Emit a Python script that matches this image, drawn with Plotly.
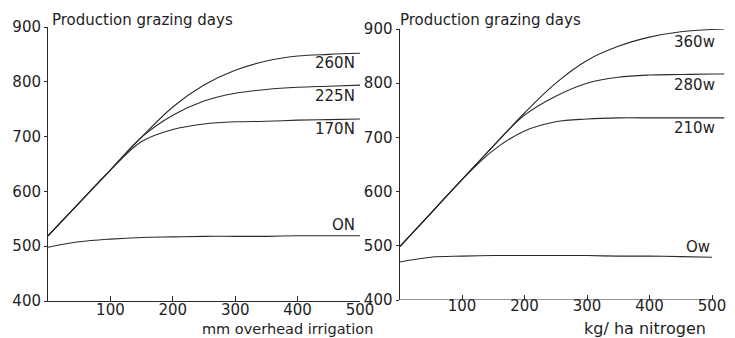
import plotly.graph_objects as go

# ---------------- data ----------------
irrigation_mm = [0, 50, 100, 150, 200, 250, 300, 350, 400, 450, 500]
n260 = [519, 579, 639, 699, 754, 794, 821, 838, 847, 850, 852]
n225 = [519, 579, 639, 699, 739, 765, 779, 786, 790, 792, 794]
n170 = [519, 579, 639, 691, 713, 723, 727, 728, 730, 731, 732]
n0 = [498, 508, 513, 516, 517, 518, 518, 518, 519, 519, 519]
left_names = ["260N", "225N", "170N", "ON"]

nitrogen_kg = [0, 50, 100, 150, 200, 250, 300, 350, 400, 450, 500, 520]
w360 = [498, 560, 622, 684, 745, 800, 842, 868, 885, 895, 899, 900]
w280 = [498, 560, 622, 684, 741, 776, 800, 811, 815, 816, 817, 817]
w210 = [498, 560, 622, 676, 712, 729, 734, 736, 736, 736, 736, 736]
nitrogen_kg_w0 = [0, 50, 100, 150, 200, 250, 300, 350, 400, 450, 500]
w0 = [470, 479, 481, 482, 482, 482, 482, 481, 481, 480, 479]
right_names = ["360w", "280w", "210w", "Ow"]

x_ticks = [100, 200, 300, 400, 500]
y_ticks = [400, 500, 600, 700, 800, 900]

# ---------------- figure ----------------
W, H = 735, 338
FONT = "DejaVu Sans"
LINE = "#2a2a2a"
TXT = "#1e1e1e"

fig = go.Figure()

left_series = [n260, n225, n170, n0]
for name, ys in zip(left_names, left_series):
    fig.add_trace(go.Scatter(x=irrigation_mm, y=ys, mode="lines", name=name,
                             line=dict(color=LINE, width=1.1, shape="spline", smoothing=1.0),
                             xaxis="x", yaxis="y", showlegend=False, hoverinfo="skip"))

right_series = [(nitrogen_kg, w360), (nitrogen_kg, w280), (nitrogen_kg, w210), (nitrogen_kg_w0, w0)]
for name, (xs, ys) in zip(right_names, right_series):
    fig.add_trace(go.Scatter(x=xs, y=ys, mode="lines", name=name,
                             line=dict(color=LINE, width=1.1, shape="spline", smoothing=1.0),
                             xaxis="x2", yaxis="y2", showlegend=False, hoverinfo="skip"))

# curve labels tied to the curve end points
left_shift = [-10, -11, -10, 11]
for name, ys, ysh in zip(left_names, left_series, left_shift):
    fig.add_annotation(x=irrigation_mm[-1], y=ys[-1], xref="x", yref="y", text=name,
                       showarrow=False, xanchor="right", yanchor="middle",
                       xshift=-3, yshift=ysh, font=dict(family=FONT, size=15, color=TXT))
right_shift = [-13, -11, -10, 10]
right_xshift = [-8, -8, -8, 0]
for name, (xs, ys), ysh, xsh in zip(right_names, right_series, right_shift, right_xshift):
    fig.add_annotation(x=xs[-1], y=ys[-1], xref="x2", yref="y2", text=name,
                       showarrow=False, xanchor="right", yanchor="middle",
                       xshift=xsh, yshift=ysh, font=dict(family=FONT, size=15, color=TXT))

# titles
for px in (50, 398):
    fig.add_annotation(x=px / W, y=1 - 20 / H, xref="paper", yref="paper",
                       text="Production grazing days", showarrow=False,
                       xanchor="left", yanchor="middle",
                       font=dict(family=FONT, size=15, color=TXT))
fig.add_annotation(x=200 / W, y=1 - 329 / H, xref="paper", yref="paper",
                   text="mm overhead irrigation", showarrow=False,
                   xanchor="left", yanchor="middle",
                   font=dict(family=FONT, size=14.5, color=TXT))
fig.add_annotation(x=582 / W, y=1 - 328 / H, xref="paper", yref="paper",
                   text="kg/ ha nitrogen", showarrow=False,
                   xanchor="left", yanchor="middle",
                   font=dict(family=FONT, size=16, color=TXT))

# right x axis line only up to 500
fig.add_shape(type="line", xref="x2", yref="y2", x0=0, x1=500, y0=400, y1=400,
              line=dict(color=LINE, width=1))

tickfont = dict(family=FONT, size=15, color=TXT)
xcommon = dict(tickvals=x_ticks, ticks="inside", ticklen=5, tickcolor=LINE,
               showgrid=False, zeroline=False, tickfont=tickfont, fixedrange=True,
               automargin=False, ticklabelstandoff=-5)
ycommon = dict(tickvals=y_ticks, ticks="outside", ticklen=3, tickcolor=LINE,
               showgrid=False, zeroline=False, showline=True, linecolor=LINE,
               linewidth=1, tickfont=tickfont, range=[400, 900], fixedrange=True,
               automargin=False)

fig.update_layout(
    template="none",
    width=W, height=H,
    margin=dict(l=0, r=0, t=0, b=0, pad=0),
    paper_bgcolor="white", plot_bgcolor="white",
    showlegend=False,
    xaxis=dict(domain=[48 / W, 360 / W], range=[0, 500], showline=True,
               linecolor=LINE, linewidth=1, anchor="y", **xcommon),
    yaxis=dict(domain=[(H - 301) / H, (H - 27) / H], anchor="x", **ycommon),
    xaxis2=dict(domain=[399.5 / W, 724.5 / W], range=[0, 520], showline=False,
                anchor="y2", **xcommon),
    yaxis2=dict(domain=[(H - 300) / H, (H - 29) / H], anchor="x2", **ycommon),
)

fig.write_html(
    "out.html",
    config={"displayModeBar": False},
    post_script="document.body.style.margin='0';document.body.style.padding='0';"
                "document.body.style.overflow='hidden';",
)
